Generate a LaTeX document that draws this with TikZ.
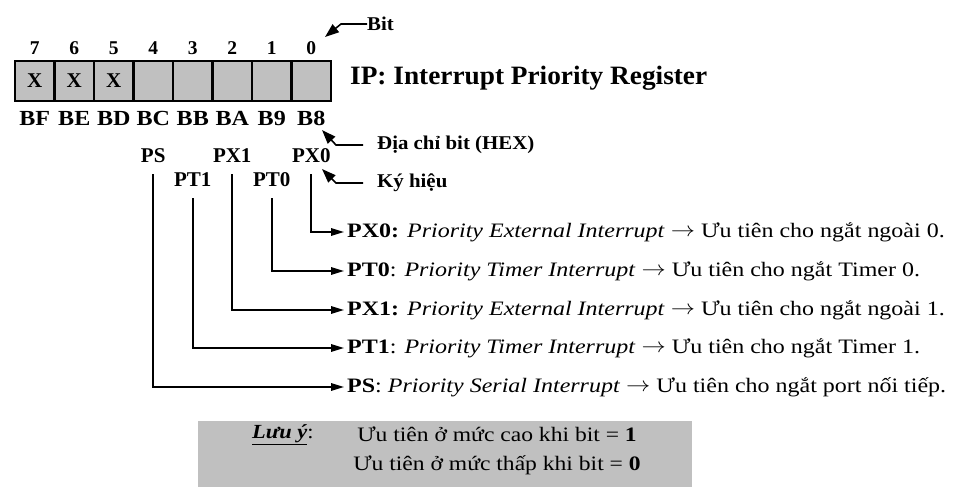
\documentclass[tikz,border=0pt]{standalone}
\usepackage{fontspec}
\usepackage{graphicx}
\setmainfont{Liberation Serif}
\usetikzlibrary{arrows.meta}
\definecolor{cellgray}{HTML}{C0C0C0}
\newcommand{\hstretch}[2]{\scalebox{#1}[1]{#2}}
\newcommand{\myarrow}{\raisebox{0.5pt}{$\rightarrow$}}
\tikzset{
  cell/.style={draw=black, line width=2.2pt, fill=cellgray, minimum width=39.5pt, minimum height=40pt, inner sep=0pt, font=\fontsize{21}{21}\selectfont\bfseries},
  bitnum/.style={font=\fontsize{19.5}{19.5}\selectfont\bfseries, inner sep=0pt},
  addr/.style={font=\fontsize{21.5}{21.5}\selectfont\bfseries, inner sep=0pt},
  sym/.style={font=\fontsize{21}{21}\selectfont\bfseries, inner sep=0pt},
  side/.style={font=\fontsize{19.5}{19.5}\selectfont\bfseries, inner sep=0pt, anchor=west},
  desc/.style={font=\fontsize{20.5}{20.5}\selectfont, inner sep=0pt, anchor=west},
  conn/.style={line width=1.6pt, -{Triangle[length=13pt,width=7.5pt]}},
  ptr/.style={line width=1.6pt, -{Triangle[length=14pt,width=10pt]}},
}
\begin{document}
\begin{tikzpicture}[x=1pt,y=-1pt]
\useasboundingbox (0,0) rectangle (974,494);
% register cells
\foreach \i/\b/\a/\v in {0/7/BF/X,1/6/BE/X,2/5/BD/X,3/4/BC/,4/3/BB/,5/2/BA/,6/1/B9/,7/0/B8/}{
  \node[cell] (c\i) at ({34.75+39.5*\i},81) {\v};
  \node[bitnum] (n\i) at ({34.75+39.5*\i},48) {\b};
  \node[addr] (a\i) at ({34.75+39.5*\i},118) {\hstretch{1.12}{\a}};
}
% symbols
\node[sym] (PS)  at (c3 |- 0,156) {PS};
\node[sym] (PX1) at (c5 |- 0,156) {PX1};
\node[sym] (PX0) at (c7 |- 0,156) {PX0};
\node[sym] (PT1) at (c4 |- 0,180) {PT1};
\node[sym] (PT0) at (c6 |- 0,180) {PT0};
% title
\node[font=\fontsize{26.5}{26.5}\selectfont\bfseries, inner sep=0pt, anchor=west] (title) at (350,78) {\hstretch{1.03}{IP: Interrupt Priority Register}};
% side labels
\node[side] (lbit) at (367,24) {\hstretch{1.07}{Bit}};
\node[side] (laddr) at (377,145) {\hstretch{1.07}{Địa chỉ bit (HEX)}};
\node[side] (lsym) at (377,183) {\hstretch{1.07}{Ký hiệu}};
\coordinate (tbit) at (325,37);
\coordinate (taddr) at (322,130);
\coordinate (tsym) at (322,169);
\draw[ptr] (lbit.west) -- ++(-26,0) -- (tbit);
\draw[ptr] (laddr.west) ++(-14,0) -- ++(-27,0) -- (taddr);
\draw[ptr] (lsym.west) ++(-14,0) -- ++(-27,0) -- (tsym);
% descriptions
\node[desc] (dPX0) at (347,232) {\hstretch{1.17}{\textbf{PX0:} \textit{Priority External Interrupt} \myarrow{} Ưu tiên cho ngắt ngoài 0.}};
\node[desc] (dPT0) at (347,271) {\hstretch{1.17}{\textbf{PT0}: \textit{Priority Timer Interrupt} \myarrow{} Ưu tiên cho ngắt Timer 0.}};
\node[desc] (dPX1) at (347,310) {\hstretch{1.17}{\textbf{PX1:} \textit{Priority External Interrupt} \myarrow{} Ưu tiên cho ngắt ngoài 1.}};
\node[desc] (dPT1) at (347,348) {\hstretch{1.17}{\textbf{PT1}: \textit{Priority Timer Interrupt} \myarrow{} Ưu tiên cho ngắt Timer 1.}};
\node[desc] (dPS)  at (347,387) {\hstretch{1.17}{\textbf{PS}: \textit{Priority Serial Interrupt} \myarrow{} Ưu tiên cho ngắt port nối tiếp.}};
% connectors
\draw[conn] ([yshift=-11pt]PX0.south) -- (PX0.south |- dPX0.west) -- ([xshift=-3pt]dPX0.west);
\draw[conn] ([yshift=-11pt]PT0.south) -- (PT0.south |- dPT0.west) -- ([xshift=-3pt]dPT0.west);
\draw[conn] ([yshift=-11pt]PX1.south) -- (PX1.south |- dPX1.west) -- ([xshift=-3pt]dPX1.west);
\draw[conn] ([yshift=-11pt]PT1.south) -- (PT1.south |- dPT1.west) -- ([xshift=-3pt]dPT1.west);
\draw[conn] ([yshift=-11pt]PS.south) -- (PS.south |- dPS.west) -- ([xshift=-3pt]dPS.west);
% note
\node[fill=cellgray, minimum width=494pt, minimum height=66pt, inner sep=0pt] (note) at (445,454) {};
\node[font=\fontsize{20}{20}\selectfont, inner sep=0pt, anchor=west] (lnote) at (252,435) {\hstretch{1.12}{\textbf{\textit{\underline{Lưu ý}}}:}};
\node[font=\fontsize{20.5}{20.5}\selectfont, inner sep=0pt, align=center] (tnote) at (497,451) {\hstretch{1.15}{Ưu tiên ở mức cao khi bit = \textbf{1}}\\[8.5pt]\hstretch{1.15}{Ưu tiên ở mức thấp khi bit = \textbf{0}}};
\end{tikzpicture}
\end{document}
